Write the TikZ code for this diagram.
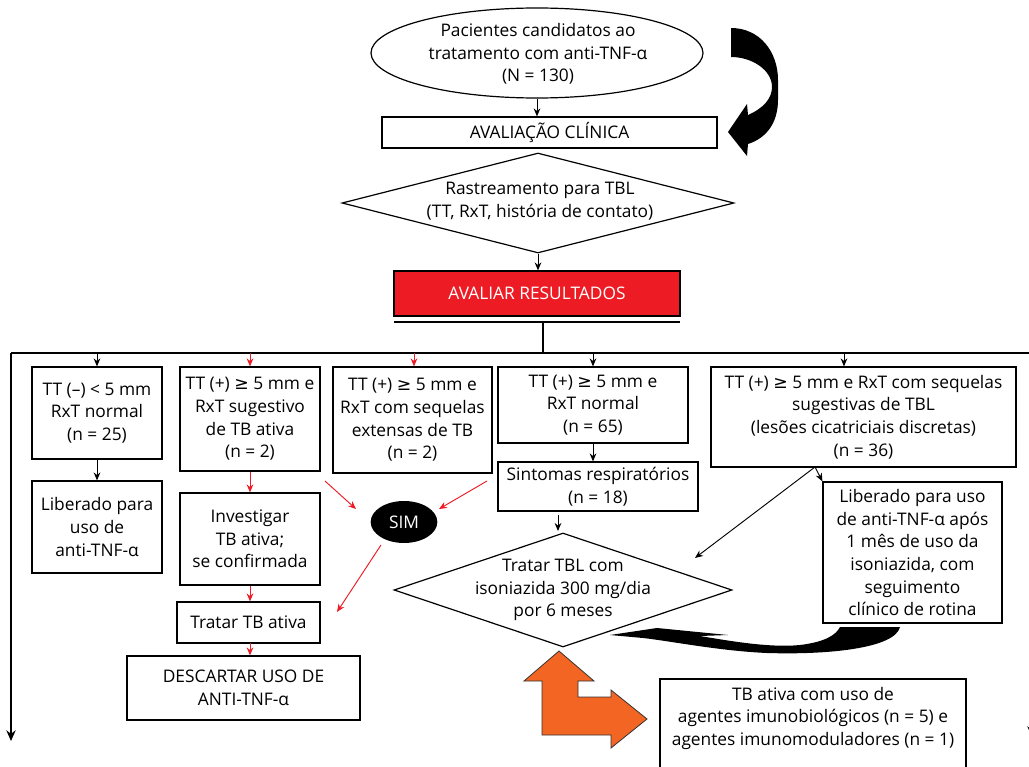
\documentclass[tikz,border=0pt]{standalone}
\usepackage{fontspec}
\setmainfont{Open Sans}
\newfontfamily\symfont{DejaVu Sans}
\newcommand\gesym{{\symfont ≥}}
\usetikzlibrary{shapes.geometric,arrows.meta}
\definecolor{redA}{HTML}{ED1C24}
\definecolor{orangeA}{HTML}{F26522}
\newcommand\mybox[7][]{%
 \pgfmathsetmacro\mbw{(#5-#3)*0.75}%
 \pgfmathsetmacro\mbh{(#6-#4)*0.75}%
 \pgfmathsetmacro\mbx{(#3+#5)/2}%
 \pgfmathsetmacro\mby{(#4+#6)/2}%
 \node[boxst,#1,minimum width=\mbw pt,minimum height=\mbh pt] (#2) at (\mbx,\mby) {#7};}
\begin{document}
\begin{tikzpicture}[x=0.75pt,y=-0.75pt,
  font=\fontsize{13}{17}\selectfont,
  boxst/.style={draw, line width=0.9pt, inner sep=0pt, align=center, fill=white},
  arr/.style={-{Stealth[length=6pt,width=5pt]}, line width=0.7pt},
  rarr/.style={arr, draw=redA},
  bigarr/.style={-{Stealth[length=8pt,width=7pt]}, line width=0.9pt}]
\useasboundingbox (0,0) rectangle (1029,767);
\clip (0,0) rectangle (1029,767);
\fill[white] (0,0) rectangle (1029,767);

% top
\node[ellipse, draw, line width=0.9pt, minimum width=249pt, minimum height=67.5pt, inner sep=0pt] (start) at (537,53) {};
\node[align=center] (startT) at (538,54) {Pacientes candidatos ao\\tratamento com anti-TNF-α\\(N = 130)};
\mybox{aval}{382}{117}{717}{148}{AVALIAÇÃO CLÍNICA}
\node[diamond, draw, line width=0.9pt, minimum width=294pt, minimum height=75pt, inner sep=0pt] (diam1) at (538,203) {};
\node[align=center] (diam1T) at (540,201) {Rastreamento para TBL\\(TT, RxT, história de contato)};
\mybox[fill=redA, text=white]{res}{394}{271}{680}{316}{AVALIAR RESULTADOS}

\draw[arr] (start.south) -- (start.south |- aval.north);
\draw[arr] (diam1.south) -- (diam1.south |- res.north);

% distribution lines
\coordinate (ul) at (394,322);
\coordinate (ur) at (680,322);
\coordinate (uc) at (543,322);
\coordinate (mc) at (543,353);
\coordinate (ml) at (11,353);
\coordinate (mr) at (1032,353);
\coordinate (lend) at (11,741);
\coordinate (rend) at (1032,737);
\draw[line width=1.4pt] (ul) -- (ur);
\draw[line width=1pt] (uc) -- (mc);
\draw[line width=1pt] (ml) -- (mr);
\draw[bigarr] (ml) -- (lend);
\draw[bigarr] (mr) -- (rend);

% row of boxes
\mybox{b1}{32}{367}{162}{459}{TT (–) < 5 mm\\RxT normal\\(n = 25)}
\mybox{b2}{180}{367}{320}{471}{TT (+) \gesym{} 5 mm e\\RxT sugestivo\\de TB ativa\\(n = 2)}
\mybox{b3}{333}{367}{492}{473}{TT (+) \gesym{} 5 mm e\\RxT com sequelas\\extensas de TB\\(n = 2)}
\mybox{b4}{498}{367}{688}{443}{TT (+) \gesym{} 5 mm e\\RxT normal\\(n = 65)}
\mybox{b5}{711}{367}{1016}{467}{TT (+) \gesym{} 5 mm e RxT com sequelas\\sugestivas de TBL\\(lesões cicatriciais discretas)\\(n = 36)}

\coordinate (m1) at (97,353);
\coordinate (m2) at (250,353);
\coordinate (m3) at (414,353);
\coordinate (m4) at (593,353);
\coordinate (m5) at (844,353);
\draw[arr] (m1) -- (m1 |- b1.north);
\draw[rarr] (m2) -- (m2 |- b2.north);
\draw[rarr] (m3) -- (m3 |- b3.north);
\draw[arr] (m4) -- (m4 |- b4.north);
\draw[arr] (m5) -- (m5 |- b5.north);

% column 1
\mybox{b1l}{32}{481}{162}{573}{Liberado para\\uso de\\anti-TNF-α}
\draw[arr] (b1.south) -- (b1l.north);

% column 2
\mybox{b2i}{180}{493}{320}{585}{Investigar\\TB ativa;\\se confirmada}
\mybox{b2t}{177}{602}{320}{643}{Tratar TB ativa}
\mybox{desc}{127}{656}{360}{720}{DESCARTAR USO DE\\ANTI-TNF-α}
\draw[rarr] (b2.south) -- (b2.south |- b2i.north);
\draw[rarr] (b2i.south) -- (b2i.south |- b2t.north);
\coordinate (c2) at (250,643);
\draw[rarr] (c2) -- (c2 |- desc.north);

% SIM
\node[ellipse, fill=black, minimum width=50pt, minimum height=31.5pt, inner sep=0pt, text=white] (sim) at (404,522) {SIM};
\coordinate (r1s) at (325,481);
\coordinate (r1e) at (356,509);
\coordinate (r2s) at (487,481);
\coordinate (r2e) at (439,509);
\coordinate (r3s) at (381,545);
\coordinate (r3e) at (337,612);
\draw[rarr] (r1s) -- (r1e);
\draw[rarr] (r2s) -- (r2e);
\draw[rarr] (r3s) -- (r3e);

% column 4
\mybox{sint}{498}{462}{698}{511}{Sintomas respiratórios\\(n = 18)}
\draw[arr] (b4.south) -- (b4.south |- sint.north);
\node[diamond, draw, line width=0.9pt, minimum width=253.5pt, minimum height=85.5pt, inner sep=0pt] (diam2) at (563,590) {};
\node[align=center] (diam2T) at (563,590) {Tratar TBL com\\isoniazida 300 mg/dia\\por 6 meses};
\coordinate (s1) at (558,515);
\coordinate (s2) at (558,531);
\draw[arr] (s1) -- (s2);

% column 5
\mybox{lib5}{823}{482}{1002}{623}{Liberado para uso\\de anti-TNF-α após\\1 mês de uso da\\isoniazida, com\\seguimento\\clínico de rotina}
\coordinate (b5s) at (815,467);
\coordinate (d2e) at (695,558);
\draw[arr] (b5s) -- (lib5.north west);
\draw[arr] (b5s) -- (d2e);

% bottom box
\mybox{tbb}{660}{679}{966}{795}{TB ativa com uso de\\agentes imunobiológicos (n = 5) e\\agentes imunomoduladores (n = 1)\\[14pt]}

% top-right curved arrow
\fill[black] (731,28) .. controls (760,28) and (778,52) .. (778,80) -- (778,100)
  .. controls (778,122) and (767,138) .. (748,144) -- (747,156) -- (728,132) -- (747,104) -- (748,115)
  .. controls (764,108) and (772,98) .. (772,87) .. controls (772,70) and (752,57) .. (731,57) -- cycle;

% bottom curved arrow
\fill[black] (840,627) -- (900,627) .. controls (895,648) and (830,655) .. (767,653)
  .. controls (720,651) and (670,641) .. (643,638) -- (610,635) -- (657,628) -- (728,635) -- (700,636)
  .. controls (730,641) and (770,648) .. (800,645) .. controls (825,642) and (836,635) .. (840,627) -- cycle;

% orange arrow
\filldraw[fill=orangeA, draw=black!80, line width=0.6pt]
  (559,651) -- (594,681) -- (578,681) -- (578,697) -- (611,697) -- (611,690) -- (647,719)
  -- (611,748) -- (611,735) -- (542,735) -- (542,681) -- (524,681) -- cycle;
\end{tikzpicture}
\end{document}
